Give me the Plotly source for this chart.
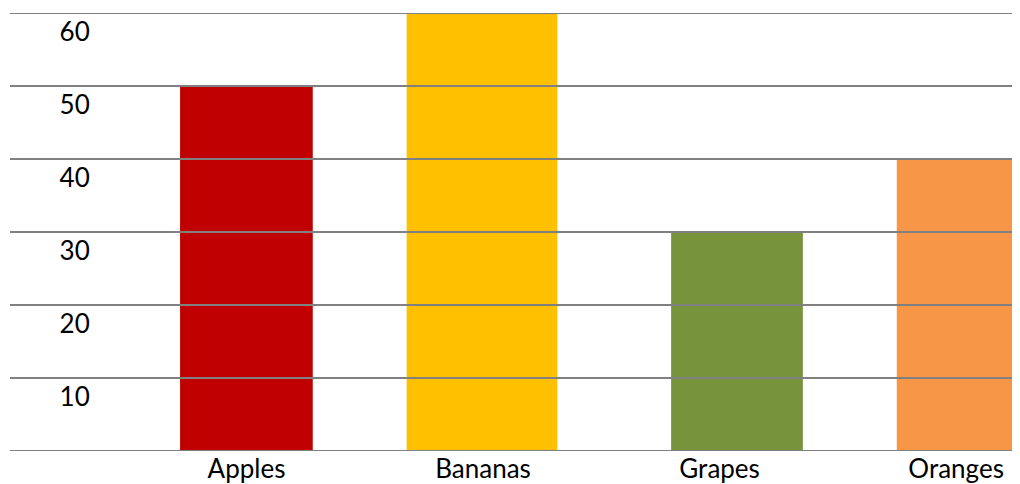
import plotly.graph_objects as go

categories = ["Apples", "Bananas", "Grapes", "Oranges"]
values = [50, 60, 30, 40]
colors = ["#C00000", "#FFC000", "#77933C", "#F79646"]
grid_values = [0, 10, 20, 30, 40, 50, 60]
tick_labels = ["10", "20", "30", "40", "50", "60"]
tick_values = [10, 20, 30, 40, 50, 60]

# styling: per-bar width / offset (category units), labels sit below gridlines
bar_widths = [0.561, 0.637, 0.557, 0.55]
bar_offsets = [-0.281, -0.323, -0.205, -0.251]
label_offset = 2.65

fig = go.Figure(
    go.Bar(
        x=categories,
        y=values,
        marker=dict(color=colors, line=dict(width=0)),
        width=bar_widths,
        offset=bar_offsets,
    )
)

shapes = [
    dict(type="line", xref="paper", yref="y", x0=0, x1=1, y0=g, y1=g,
         line=dict(color="#808080", width=2), layer="above")
    for g in grid_values
]

fig.update_layout(
    width=1012,
    height=476,
    margin=dict(l=2, r=0, t=5, b=33),
    paper_bgcolor="white",
    plot_bgcolor="white",
    showlegend=False,
    shapes=shapes,
    font=dict(family="Lato", size=26, color="#000000"),
    xaxis=dict(
        type="category",
        range=[-1, 3.27],
        showgrid=False,
        zeroline=False,
        showline=False,
        ticks="",
        ticklabelstandoff=0,
        tickfont=dict(family="Lato", size=26, color="#000000"),
    ),
    yaxis=dict(
        range=[0, 60],
        showgrid=False,
        zeroline=False,
        showline=False,
        anchor="free",
        position=0.079,
        tickvals=[v - label_offset for v in tick_values],
        ticktext=tick_labels,
        ticks="",
        tickfont=dict(family="Lato", size=26, color="#000000"),
    ),
)

fig.write_html("out.html")
